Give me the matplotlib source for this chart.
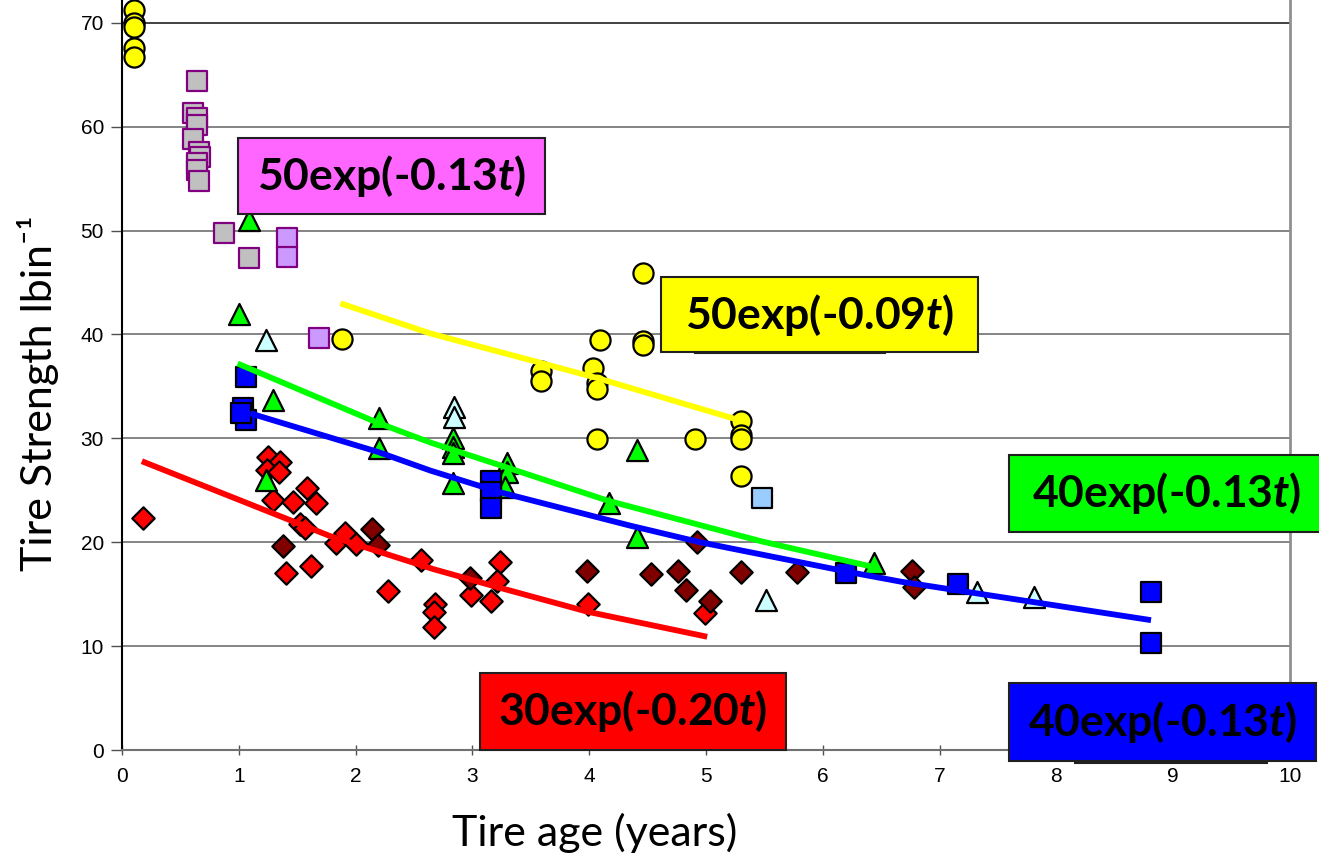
import matplotlib
matplotlib.use("Agg")
import matplotlib.pyplot as plt
from matplotlib.patches import Rectangle

plt.rcParams['mathtext.fontset'] = 'custom'
plt.rcParams['mathtext.rm'] = 'Lato'
plt.rcParams['mathtext.bfit'] = 'Lato:italic:bold'

# ---- data ----
yellow_x = [0.10, 0.10, 0.10, 0.10, 0.10, 1.88, 3.59, 3.59, 4.03, 4.07, 4.07, 4.09, 4.07,
            4.46, 4.46, 4.46, 4.91, 5.30, 5.30, 5.30, 5.30]
yellow_y = [71.2, 70.0, 69.6, 67.6, 66.7, 39.6, 36.5, 35.5, 36.8, 35.3, 34.8, 39.5, 29.9,
            45.9, 39.4, 39.0, 29.9, 31.7, 30.3, 29.9, 26.4]

grey_x = [0.64, 0.61, 0.64, 0.64, 0.61, 0.66, 0.67, 0.64, 0.64, 0.66, 0.87, 1.09]
grey_y = [64.4, 61.3, 60.8, 60.2, 58.8, 57.6, 57.1, 56.5, 55.8, 54.8, 49.8, 47.4]

lav_x = [1.41, 1.41, 1.69]
lav_y = [49.3, 47.5, 39.7]

green_x = [1.09, 1.00, 1.29, 1.23, 2.20, 2.20, 2.83, 2.83, 2.83, 2.83, 3.30, 3.30, 3.28,
           4.17, 4.41, 4.41, 6.44]
green_y = [51.0, 42.0, 33.7, 26.0, 32.0, 29.1, 30.0, 29.2, 28.6, 25.7, 27.6, 26.8, 25.3,
           23.8, 28.9, 20.5, 18.0]

cyan_x = [1.23, 2.84, 2.84, 5.51, 7.32, 7.81]
cyan_y = [39.5, 33.0, 32.1, 14.4, 15.2, 14.7]

blue_x = [1.06, 1.04, 1.06, 1.02, 3.16, 3.16, 3.16, 6.20, 7.16, 8.81, 8.81]
blue_y = [35.9, 32.9, 31.8, 32.4, 25.9, 24.8, 23.3, 17.0, 16.0, 15.2, 10.3]

ltblue_x = [5.48]
ltblue_y = [24.3]

red_x = [0.18, 1.25, 1.35, 1.24, 1.34, 1.29, 1.46, 1.58, 1.66, 1.52, 1.57, 1.40, 1.62,
         1.83, 1.91, 2.00, 2.28, 2.56, 2.68, 2.67, 2.67, 2.99, 3.24, 3.21, 3.16, 3.99, 4.99]
red_y = [22.3, 28.2, 27.7, 27.0, 26.8, 24.1, 23.9, 25.2, 23.8, 21.8, 21.4, 17.0, 17.7,
         19.9, 20.9, 19.8, 15.3, 18.3, 14.1, 13.3, 11.8, 14.9, 18.1, 16.3, 14.3, 14.1, 13.2]

dark_x = [1.38, 2.14, 2.19, 2.98, 3.98, 4.53, 4.76, 4.83, 4.92, 5.03, 5.30, 5.78, 6.76, 6.78]
dark_y = [19.6, 21.3, 19.7, 16.6, 17.2, 16.9, 17.2, 15.4, 20.0, 14.3, 17.1, 17.1, 17.2, 15.7]

# fitted curves
yfit_t = [1.87, 2.64, 3.64, 4.07, 5.24]
yfit_v = [43.0, 40.1, 37.1, 35.8, 31.9]
gfit_t = [0.99, 2.19, 2.64, 3.24, 4.16, 5.47, 6.44]
gfit_v = [37.2, 31.5, 29.6, 27.4, 24.0, 20.1, 17.6]
bfit_t = [1.10, 2.19, 2.64, 3.24, 4.35, 4.95, 6.24, 6.67, 8.81]
bfit_v = [32.4, 28.7, 26.9, 24.8, 21.6, 20.0, 17.1, 16.2, 12.5]
rfit_t = [0.17, 0.93, 1.78, 2.67, 3.24, 3.99, 5.01]
rfit_v = [27.8, 24.4, 20.6, 17.4, 15.6, 13.3, 10.9]

W, H = 1319, 859
fig = plt.figure(figsize=(W / 100, H / 100), dpi=100)
ax = fig.add_axes([122 / W, 1 - 750 / H, (1290 - 122) / W, 750 / H])
ax.set_xlim(0, 10)
ax.set_ylim(0, 72.2)

for v in range(10, 80, 10):
    ax.axhline(v, color='#707070' if v < 70 else '#202020', lw=1.2, zorder=0)

ew = 1.6
ax.scatter(red_x, red_y, marker='D', s=130, c='#FF0000', edgecolors='black', linewidths=ew, zorder=3)
ax.scatter(dark_x, dark_y, marker='D', s=130, c='#800000', edgecolors='black', linewidths=ew, zorder=3)
ax.scatter(grey_x, grey_y, marker='s', s=200, c='#C0C0C0', edgecolors='#800080', linewidths=ew, zorder=3)
ax.scatter(lav_x, lav_y, marker='s', s=200, c='#CC99FF', edgecolors='#800080', linewidths=ew, zorder=3)
ax.scatter(green_x, green_y, marker='^', s=230, c='#00FF00', edgecolors='black', linewidths=ew, zorder=3)
ax.scatter(cyan_x, cyan_y, marker='^', s=230, c='#CCFFFF', edgecolors='black', linewidths=ew, zorder=3)
ax.scatter(blue_x, blue_y, marker='s', s=200, c='#0000FF', edgecolors='black', linewidths=ew, zorder=3)
ax.scatter(ltblue_x, ltblue_y, marker='s', s=200, c='#99CCFF', edgecolors='black', linewidths=ew, zorder=3)
ax.scatter(yellow_x, yellow_y, marker='o', s=210, c='#FFFF00', edgecolors='black', linewidths=ew, zorder=3)

lw_fit = 4.2
ax.plot(yfit_t, yfit_v, color='#FFFF00', lw=lw_fit, zorder=4, solid_capstyle='butt', solid_joinstyle='round')
ax.plot(gfit_t, gfit_v, color='#00FF00', lw=lw_fit, zorder=4, solid_capstyle='butt', solid_joinstyle='round')
ax.plot(bfit_t, bfit_v, color='#0000FF', lw=lw_fit, zorder=4, solid_capstyle='butt', solid_joinstyle='round')
ax.plot(rfit_t, rfit_v, color='#FF0000', lw=lw_fit, zorder=4, solid_capstyle='butt', solid_joinstyle='round')

ax.spines['top'].set_visible(False)
ax.spines['left'].set_color('black')
ax.spines['left'].set_linewidth(1.5)
ax.spines['bottom'].set_color('#707070')
ax.spines['bottom'].set_linewidth(1.5)
ax.spines['right'].set_color('#909090')
ax.spines['right'].set_linewidth(2.0)

ax.set_xticks(range(0, 11))
ax.set_yticks(range(0, 80, 10))
ax.tick_params(axis='x', direction='inout', length=7, width=1, color='#505050', pad=9,
               labelsize=15, labelfontfamily='Liberation Sans')
ax.tick_params(axis='y', direction='out', length=8, width=1, color='#505050', pad=5,
               labelsize=15, labelfontfamily='Liberation Sans')

fig.text(595 / W, 1 - 833 / H, 'Tire age (years)', family='Lato', fontsize=31,
         ha='center', va='center')
fig.text(38 / W, 1 - 393 / H, 'Tire Strength lbin\u207b\u00b9', family=['Lato', 'DejaVu Sans'],
         fontsize=31, ha='center', va='center', rotation=90)


def box(x0, y0, x1, y1, color, text, z=10):
    r = Rectangle((x0 / W, 1 - y1 / H), (x1 - x0) / W, (y1 - y0) / H, transform=fig.transFigure,
                  facecolor=color, edgecolor='#202020', lw=1.5, zorder=z)
    fig.add_artist(r)
    if text:
        fig.text((x0 + x1) / 2 / W, 1 - (y0 + y1) / 2 / H, text, family='Lato',
                 fontweight='bold', fontsize=32, ha='center', va='center', zorder=z + 1)


# hidden boxes peeking out under two labels
box(695, 300, 885, 353, 'white', None, z=9)
box(1075, 700, 1267, 763, 'white', None, z=9)

box(238, 138, 545, 214, '#FF66FF', r'50exp(-0.13$\mathbfit{t}$)')
box(661, 277, 978, 352, '#FFFF00', r'50exp(-0.09$\mathbfit{t}$)')
box(1009, 455, 1325, 532, '#00FF00', r'40exp(-0.13$\mathbfit{t}$)')
box(480, 673, 786, 750, '#FF0000', r'30exp(-0.20$\mathbfit{t}$)')
box(1009, 683, 1316, 761, '#0000FF', r'40exp(-0.13$\mathbfit{t}$)')

fig.savefig('out.png', dpi=100)
